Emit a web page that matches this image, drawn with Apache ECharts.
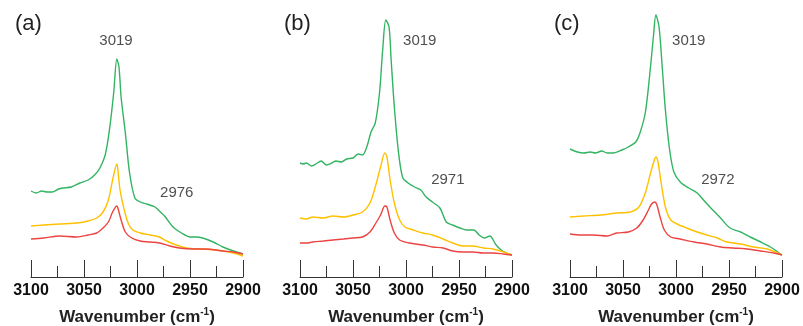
<!DOCTYPE html>
<html><head><meta charset="utf-8">
<script src="https://cdn.jsdelivr.net/npm/echarts@6/dist/echarts.min.js"></script>
<style>html,body{margin:0;padding:0;background:#fff}#c{width:803px;height:326px}</style>
</head><body><div id="c"></div><script>
// ---- data (wavenumber in cm-1, absorbance in arbitrary units) ----
const panelLabels = ['(a)', '(b)', '(c)'];
const xTickValues = [3100, 3050, 3000, 2950, 2900];

const aGreenX = [3100,3095,3090,3085,3080,3074,3070,3062,3054,3046,3040,3035,3030,3026,3022,3019,3017,3015,3011,3007,3002,2997,2991,2983,2978,2974,2966,2958,2950,2944,2938,2928,2919,2909,2900];
const aGreenY = [0.86,0.84,0.86,0.85,0.85,0.88,0.89,0.90,0.94,0.97,1.02,1.09,1.22,1.47,1.84,2.18,2.10,1.80,1.44,1.04,0.79,0.75,0.73,0.70,0.65,0.61,0.50,0.44,0.40,0.40,0.39,0.35,0.30,0.26,0.23];
const aOrangeX = [3100,3088,3073,3057,3046,3038,3032,3027,3023,3019,3018,3016,3012,3008,3004,2997,2988,2979,2972,2963,2953,2941,2925,2909,2900];
const aOrangeY = [0.51,0.52,0.53,0.54,0.56,0.59,0.65,0.77,0.97,1.13,1.07,0.87,0.67,0.53,0.47,0.44,0.42,0.40,0.36,0.32,0.29,0.28,0.27,0.24,0.21];
const aRedX = [3100,3088,3073,3057,3046,3038,3032,3027,3023,3019,3018,3015,3011,3005,2997,2988,2979,2969,2960,2947,2935,2919,2909,2900];
const aRedY = [0.38,0.39,0.41,0.40,0.42,0.44,0.49,0.55,0.65,0.71,0.69,0.57,0.45,0.39,0.36,0.35,0.34,0.31,0.29,0.28,0.28,0.26,0.25,0.23];

const bGreenX = [3100,3097,3094,3089,3085,3080,3075,3070,3066,3061,3056,3050,3045,3041,3037,3033,3029,3025,3022,3019,3016,3014,3011,3007,3003,2998,2992,2986,2981,2975,2968,2962,2956,2949,2943,2936,2931,2926,2921,2915,2909,2900];
const bGreenY = [1.14,1.13,1.14,1.11,1.13,1.16,1.12,1.14,1.16,1.15,1.18,1.19,1.23,1.22,1.30,1.45,1.54,1.84,2.27,2.57,2.50,2.17,1.70,1.24,0.99,0.94,0.90,0.87,0.80,0.75,0.69,0.55,0.52,0.49,0.47,0.47,0.42,0.39,0.41,0.32,0.26,0.22];
const bOrangeX = [3100,3094,3088,3078,3069,3059,3050,3041,3034,3029,3024,3020,3018,3015,3011,3006,3001,2993,2984,2975,2965,2956,2946,2937,2927,2918,2908,2900];
const bOrangeY = [0.59,0.58,0.60,0.59,0.61,0.60,0.62,0.65,0.74,0.90,1.10,1.24,1.20,0.97,0.74,0.57,0.50,0.47,0.44,0.42,0.38,0.34,0.31,0.31,0.29,0.28,0.25,0.22];
const bRedX = [3100,3094,3088,3078,3069,3059,3050,3041,3034,3029,3024,3020,3018,3015,3011,3006,2997,2984,2975,2965,2956,2946,2937,2927,2918,2908,2900];
const bRedY = [0.34,0.34,0.35,0.36,0.37,0.38,0.39,0.40,0.45,0.53,0.62,0.71,0.70,0.57,0.44,0.37,0.34,0.32,0.30,0.29,0.26,0.25,0.25,0.24,0.24,0.23,0.22];

const cGreenX = [3100,3093,3087,3081,3076,3070,3065,3059,3051,3045,3038,3034,3029,3025,3021,3019,3016,3013,3010,3006,3002,2996,2988,2980,2974,2968,2958,2949,2939,2930,2920,2911,2900];
const cGreenY = [1.28,1.25,1.24,1.25,1.24,1.26,1.24,1.24,1.27,1.30,1.35,1.44,1.64,2.00,2.44,2.62,2.50,2.10,1.67,1.27,1.05,0.95,0.89,0.84,0.77,0.70,0.59,0.49,0.45,0.40,0.35,0.30,0.22];
const cOrangeX = [3100,3087,3071,3056,3043,3035,3029,3024,3021,3019,3017,3014,3010,3005,2999,2990,2980,2971,2961,2952,2939,2927,2914,2900];
const cOrangeY = [0.60,0.61,0.62,0.64,0.65,0.70,0.84,1.04,1.15,1.20,1.15,0.94,0.70,0.57,0.53,0.49,0.45,0.42,0.39,0.35,0.33,0.30,0.28,0.22];
const cRedX = [3100,3090,3078,3065,3056,3045,3037,3031,3026,3023,3020,3018,3015,3011,3005,2996,2983,2971,2958,2946,2933,2920,2908,2900];
const cRedY = [0.43,0.42,0.42,0.41,0.44,0.45,0.49,0.57,0.67,0.73,0.75,0.72,0.60,0.47,0.40,0.38,0.35,0.33,0.30,0.29,0.28,0.26,0.24,0.22];

// peak annotations: [wavenumber position, absorbance position, text]
const annotX = [[3019.8, 2962.5], [2987, 2960.5], [2988, 2960.5]];
const annotY = [[2.36, 0.84], [2.36, 0.97], [2.36, 0.97]];
const annotText = [['3019', '2976'], ['3019', '2971'], ['3019', '2972']];

// ---- chart ----
const COLORS = { green: '#33b463', orange: '#ffc000', red: '#ec4343' };
const panels = [
  { g: [aGreenX, aGreenY], o: [aOrangeX, aOrangeY], r: [aRedX, aRedY] },
  { g: [bGreenX, bGreenY], o: [bOrangeX, bOrangeY], r: [bRedX, bRedY] },
  { g: [cGreenX, cGreenY], o: [cOrangeX, cOrangeY], r: [cRedX, cRedY] }
];
const gridLefts = [31, 300, 570];
const FONT = '"Liberation Sans", Arial, sans-serif';
const pairs = (xs, ys) => xs.map((x, i) => [x, ys[i]]);

const grids = [], xAxes = [], yAxes = [], series = [], graphics = [];
panels.forEach((p, i) => {
  grids.push({ left: gridLefts[i], width: 212, top: 7, bottom: 49, outerBoundsMode: 'none', containLabel: false });
  xAxes.push({
    type: 'value', gridIndex: i, min: 2900, max: 3100, interval: 50, inverse: true,
    axisLine: { show: true, onZero: false, lineStyle: { color: '#333', width: 1 } },
    axisTick: { show: true, inside: true, length: 17, lineStyle: { color: '#333', width: 1 } },
    minorTick: { show: true, splitNumber: 2, length: 11, lineStyle: { color: '#333', width: 1 } },
    splitLine: { show: false }, minorSplitLine: { show: false },
    axisLabel: { fontFamily: FONT, fontWeight: 'bold', fontSize: 16, color: '#111', margin: 6,
      formatter: v => (xTickValues.indexOf(v) >= 0 ? String(v) : '') },
    name: '{a|Wavenumber (cm}{s|-1}{a|)}',
    nameLocation: 'middle', nameGap: 30,
    nameTextStyle: {
      rich: {
        a: { fontFamily: FONT, fontWeight: 'bold', fontSize: 17, color: '#222', lineHeight: 20 },
        s: { fontFamily: FONT, fontWeight: 'bold', fontSize: 10, color: '#222', verticalAlign: 'top', lineHeight: 20, padding: [0, 0, 8, 0] }
      }
    }
  });
  yAxes.push({ type: 'value', gridIndex: i, min: 0, max: 2.7, show: false });
  [['g', 'green'], ['o', 'orange'], ['r', 'red']].forEach(([k, c], j) => {
    series.push({
      type: 'line', xAxisIndex: i, yAxisIndex: i, data: pairs(p[k][0], p[k][1]),
      showSymbol: false, smooth: 0.3, z: 2 + j,
      lineStyle: { color: COLORS[c], width: 1.4 }, animation: false
    });
  });
  series.push({
    type: 'scatter', xAxisIndex: i, yAxisIndex: i, symbolSize: 0, animation: false, silent: true,
    data: annotX[i].map((x, k) => ({ value: [x, annotY[i][k]], name: annotText[i][k] })),
    label: { show: true, position: 'inside', formatter: d => d.name, fontFamily: FONT, fontSize: 15, color: '#222' }
  });
  graphics.push({
    type: 'text', left: gridLefts[i] - 16, top: 13,
    style: { text: panelLabels[i], font: '22px ' + FONT, fill: '#222' }
  });
});

const chart = echarts.init(document.getElementById('c'), null, { renderer: 'canvas' });
chart.setOption({
  animation: false, backgroundColor: '#fff',
  grid: grids, xAxis: xAxes, yAxis: yAxes, series: series, graphic: graphics
});
</script></body></html>
